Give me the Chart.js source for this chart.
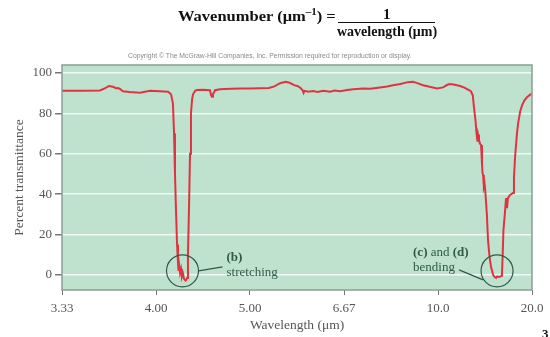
<!DOCTYPE html>
<html>
<head>
<meta charset="utf-8">
<script src="https://cdn.jsdelivr.net/npm/chart.js@4"></script>
<style>
  body { margin: 0; background: #fff; }
  #wrap { position: relative; width: 550px; height: 337px; overflow: hidden; font-family: "Liberation Serif", "DejaVu Serif", serif; }
  #ir { position: absolute; left: 0; top: 0; }
  .head { position: absolute; font-weight: bold; color: #111; white-space: nowrap; }
  .head sup { font-size: 10px; }
  #copy { position: absolute; left: 128px; top: 52px; font: 6.8px Arial, "Liberation Sans", sans-serif; color: #8a8a8a; white-space: nowrap; }
  #pg { position: absolute; left: 542px; top: 326px; font: bold 13px "Liberation Serif", serif; color: #111; }
</style>
</head>
<body>
<div id="wrap">
  <canvas id="ir" width="550" height="337"></canvas>
  <div class="head" style="left:178px; top:6px; font-size:15px; transform:scaleX(1.1); transform-origin:left center;">Wavenumber (&#956;m<sup>&#8211;1</sup>) =</div>
  <div class="head" style="left:383px; top:6px; font-size:15px;">1</div>
  <div style="position:absolute; left:338px; top:22px; width:97px; height:0; border-top:1.5px solid #111;"></div>
  <div class="head" style="left:337px; top:24px; font-size:14px;">wavelength (&#956;m)</div>
  <div id="copy">Copyright &#169; The McGraw-Hill Companies, Inc. Permission required for reproduction or display.</div>
  <div id="pg">3</div>
</div>
<script>
// x = wavenumber (1/um), y = percent transmittance
const wavenumber = [
  0.300, 0.290, 0.2798, 0.2770, 0.2750, 0.2728, 0.2713, 0.2702, 0.2690, 0.2676,
  0.2640, 0.2585, 0.2532, 0.2480, 0.2436, 0.2420, 0.2410, 0.2404, 0.2399, 0.2393,
  0.2388, 0.2383, 0.2380, 0.2377, 0.2372, 0.2367, 0.2362, 0.2356, 0.2351, 0.2346,
  0.2340, 0.2335, 0.2330, 0.2324, 0.2319, 0.2314, 0.2308, 0.2303, 0.2292, 0.2282,
  0.2250, 0.2213, 0.2207, 0.2202, 0.2197, 0.2186, 0.2160, 0.2100, 0.2050, 0.2000,
  0.1950, 0.1900, 0.1870, 0.1840, 0.1810, 0.1790, 0.1765, 0.1745, 0.1730, 0.1720,
  0.1715, 0.1710, 0.1690, 0.1665, 0.1640, 0.1610, 0.1574, 0.1550, 0.1520, 0.1484,
  0.1450, 0.1399, 0.1360, 0.1309, 0.1270, 0.1239, 0.1200, 0.1160, 0.1133, 0.1110,
  0.1080, 0.1050, 0.1005, 0.0973, 0.0950, 0.0936, 0.0910, 0.0883, 0.0860, 0.0840,
  0.0825, 0.0815, 0.0809, 0.0800, 0.0795, 0.0790, 0.0787, 0.0782, 0.0777, 0.0771,
  0.0766, 0.0763, 0.0760, 0.0756, 0.0752, 0.0748, 0.0740, 0.0734, 0.0726, 0.0718,
  0.0707, 0.0700, 0.0691, 0.0685, 0.0676, 0.0668, 0.0660, 0.0656, 0.0652, 0.0644,
  0.0638, 0.0633, 0.0628, 0.0617, 0.0601, 0.0596, 0.0590, 0.0580, 0.0574, 0.0563,
  0.0553, 0.0540, 0.0527, 0.0510, 0.0500
];
const transmittance = [
  91.2, 91.2, 91.4, 92.5, 93.6, 93.2, 92.5, 92.6, 92.0, 91.0,
  90.6, 90.3, 91.2, 91.0, 90.7, 89.5, 85.0, 70.0, 50.0, 30.0,
  15.0, 6.0, 2.0, 5.0, 1.0, 3.0, -1.0, 0.5, -2.0, -2.5,
  -2.5, -1.5, 10.0, 35.0, 60.0, 80.0, 87.0, 89.5, 91.2, 91.6,
  91.7, 91.5, 89.0, 88.3, 89.5, 91.5, 92.0, 92.2, 92.3, 92.4,
  92.5, 92.6, 93.4, 95.0, 95.7, 95.2, 94.0, 93.5, 92.5, 91.5,
  90.2, 91.2, 90.8, 91.1, 90.6, 91.2, 90.7, 91.3, 91.0, 91.6,
  92.0, 92.4, 92.2, 92.9, 93.3, 94.0, 94.6, 95.5, 95.7, 95.0,
  94.0, 93.3, 92.4, 92.9, 94.2, 94.6, 94.2, 93.6, 92.8, 91.8,
  91.0, 89.0, 83.3, 76.0, 70.0, 66.0, 69.5, 67.0, 65.0, 64.4,
  55.0, 50.5, 49.5, 43.6, 45.0, 41.0, 30.0, 17.3, 9.0, 4.0,
  0.0, -1.0, -1.5, -0.8, -1.0, -0.8, -0.5, 10.0, 22.0, 30.7,
  38.0, 33.0, 38.0, 39.6, 40.6, 48.0, 58.4, 70.0, 75.0, 81.0,
  84.0, 86.5, 88.0, 89.3, 89.6
];

const xTickValues = [0.30, 0.25, 0.20, 0.15, 0.10, 0.05];
const xTickLabels = ['3.33', '4.00', '5.00', '6.67', '10.0', '20.0'];
const yTickValues = [0, 20, 40, 60, 80, 100];

// circled absorption bands (centre in data units)
const callouts = [
  { x: 0.2359, y: 2, text: [[['(b)', true]], [['stretching', false]]], tx: 44, ty: -13, line: [[16, 0], [40, -4]] },
  { x: 0.0686, y: 2, text: [[['(c)', true], [' and ', false], ['(d)', true]], [['bending', false]]], tx: -84, ty: -18, line: [[-38, -1], [-14, 9]] }
];

const serif = '"Liberation Serif", "DejaVu Serif", serif';

const frame = {
  id: 'frame',
  beforeDraw(chart) {
    const { ctx, chartArea: a } = chart;
    ctx.save();
    ctx.fillStyle = '#bfe2cf';
    ctx.fillRect(a.left, a.top, a.right - a.left, a.bottom - a.top);
    ctx.restore();
  },
  afterDraw(chart) {
    const { ctx, chartArea: a } = chart;
    const xs = chart.scales.x, ys = chart.scales.y;
    ctx.save();
    ctx.strokeStyle = '#8a9e94';
    ctx.lineWidth = 1.5;
    ctx.strokeRect(a.left, a.top, a.right - a.left, a.bottom - a.top);

    ctx.strokeStyle = '#2f5a48';
    ctx.fillStyle = '#2f5a48';
    ctx.lineWidth = 1.2;
    callouts.forEach(c => {
      const cx = xs.getPixelForValue(c.x);
      const cy = ys.getPixelForValue(c.y);
      ctx.beginPath();
      ctx.arc(cx, cy, 16, 0, Math.PI * 2);
      ctx.stroke();
      ctx.beginPath();
      ctx.moveTo(cx + c.line[0][0], cy + c.line[0][1]);
      ctx.lineTo(cx + c.line[1][0], cy + c.line[1][1]);
      ctx.stroke();
      ctx.textBaseline = 'middle';
      c.text.forEach((row, i) => {
        let px = cx + c.tx;
        row.forEach(([s, bold]) => {
          ctx.font = (bold ? 'bold ' : '') + '13px ' + serif;
          ctx.fillText(s, px, cy + c.ty + i * 15);
          px += ctx.measureText(s).width;
        });
      });
    });
    ctx.restore();
  }
};

new Chart(document.getElementById('ir'), {
  type: 'line',
  data: {
    datasets: [{
      data: wavenumber.map((x, i) => ({ x, y: transmittance[i] })),
      borderColor: '#df3440',
      borderWidth: 2,
      pointRadius: 0,
      tension: 0
    }]
  },
  options: {
    responsive: false,
    animation: false,
    devicePixelRatio: 1,
    layout: { padding: { left: 0, right: 18, top: 65, bottom: 0 } },
    plugins: { legend: { display: false }, tooltip: { enabled: false } },
    scales: {
      x: {
        type: 'linear',
        reverse: true,
        min: 0.05,
        max: 0.30,
        afterBuildTicks: s => { s.ticks = xTickValues.map(v => ({ value: v })); },
        afterFit: s => { s.height = 47; },
        grid: { drawOnChartArea: false, tickLength: 5, tickColor: '#777' },
        border: { display: false },
        ticks: {
          autoSkip: false, maxRotation: 0, padding: 6,
          color: '#555', font: { family: serif, size: 13 },
          callback: (v, i) => xTickLabels[i]
        },
        title: {
          display: true, text: 'Wavelength (\u03bcm)', color: '#555',
          font: { family: serif, size: 13.5 }, padding: { top: 0, bottom: 3 }
        }
      },
      y: {
        min: -7.5,
        max: 104,
        afterBuildTicks: s => { s.ticks = yTickValues.map(v => ({ value: v })); },
        afterFit: s => { s.width = 62; },
        grid: { color: 'rgba(255,255,255,0.8)', lineWidth: 1.5, tickLength: 7, tickColor: '#777' },
        border: { display: false },
        ticks: { padding: 3, color: '#555', font: { family: serif, size: 13 } },
        title: {
          display: true, text: 'Percent transmittance', color: '#555',
          font: { family: serif, size: 13.5 }, padding: { top: 11, bottom: 0 }
        }
      }
    }
  },
  plugins: [frame]
});
</script>
</body>
</html>
